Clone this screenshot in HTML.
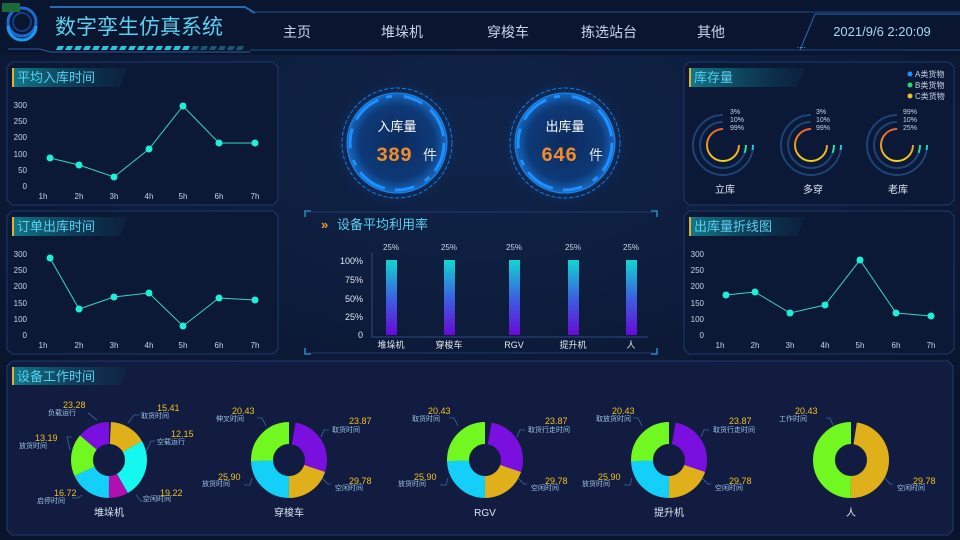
<!DOCTYPE html>
<html><head><meta charset="utf-8"><style>
html,body{margin:0;padding:0;background:#0b1530;}
svg{display:block;font-family:"Liberation Sans","Noto Sans CJK SC",sans-serif;}
</style></head><body>
<svg width="960" height="540" viewBox="0 0 960 540" xmlns="http://www.w3.org/2000/svg">
<defs>
<radialGradient id="bgG" cx="0.5" cy="0.25" r="0.7"><stop offset="0" stop-color="#10244a"/><stop offset="1" stop-color="#0a142c"/></radialGradient>
<linearGradient id="barG" x1="0" y1="0" x2="0" y2="1"><stop offset="0" stop-color="#12d6d0"/><stop offset="0.5" stop-color="#3a62e0"/><stop offset="1" stop-color="#6a08d8"/></linearGradient>
<linearGradient id="titleG" x1="0" y1="0" x2="1" y2="0"><stop offset="0" stop-color="#137a8a"/><stop offset="1" stop-color="#0c3350" stop-opacity="0.3"/></linearGradient>
<linearGradient id="ringG" x1="0" y1="0" x2="0" y2="1"><stop offset="0" stop-color="#e8622a"/><stop offset="1" stop-color="#f2d21c"/></linearGradient>
<radialGradient id="gaugeG" cx="0.5" cy="0.5" r="0.5"><stop offset="0" stop-color="#0c2a5c"/><stop offset="0.75" stop-color="#0e3a78"/><stop offset="1" stop-color="#1668c0"/></radialGradient>
<radialGradient id="glowG" cx="0.5" cy="0.5" r="0.5"><stop offset="0.6" stop-color="#1060c0" stop-opacity="0.35"/><stop offset="1" stop-color="#0b1530" stop-opacity="0"/></radialGradient>
</defs>
<rect width="960" height="540" fill="url(#bgG)"/>
<!-- header -->
<rect x="0" y="0" width="960" height="55" fill="#0a1530"/>
<path d="M250 12 L960 12 M250 50 L960 50" stroke="#1f4a8a" stroke-width="1"/>
<path d="M8 49 L40 49 L50 52 L250 52" stroke="#2a5aa0" fill="none"/>
<path d="M50 7 L245 7 L255 13" stroke="#2a6ab0" fill="none" stroke-width="2"/>
<circle cx="22" cy="22" r="14" fill="none" stroke="#1a6ad0" stroke-width="3"/>
<circle cx="22" cy="22" r="9" fill="none" stroke="#0f3f80" stroke-width="2"/>
<path d="M8 26 A14 14 0 0 0 36 26" stroke="#1a9af0" stroke-width="3" fill="none"/>
<rect x="2" y="3" width="18" height="9" fill="#1a6a3a"/>
<text x="55" y="34" font-size="21" fill="#5ad0f0">数字孪生仿真系统</text>
<g fill="#29c4d8">
<path d="M58 46h6l-2 4h-6z M67 46h6l-2 4h-6z M76 46h6l-2 4h-6z M85 46h6l-2 4h-6z M94 46h6l-2 4h-6z M103 46h6l-2 4h-6z M112 46h6l-2 4h-6z M121 46h6l-2 4h-6z M130 46h6l-2 4h-6z M139 46h6l-2 4h-6z M148 46h6l-2 4h-6z M157 46h6l-2 4h-6z M166 46h6l-2 4h-6z M175 46h6l-2 4h-6z M184 46h6l-2 4h-6z"/>
<path d="M193 46h6l-2 4h-6z M202 46h6l-2 4h-6z M211 46h6l-2 4h-6z M220 46h6l-2 4h-6z M229 46h6l-2 4h-6z M238 46h6l-2 4h-6z" opacity="0.4"/>
</g>
<g font-size="14" fill="#c8d4e8" text-anchor="middle">
<text x="297" y="37">主页</text><text x="402" y="37">堆垛机</text><text x="508" y="37">穿梭车</text><text x="609" y="37">拣选站台</text><text x="711" y="37">其他</text>
</g>
<path d="M800 50 L815 14 L960 14" stroke="#2a6ab0" fill="none"/>
<text x="882" y="36" font-size="13" fill="#a8d8f0" text-anchor="middle">2021/9/6 2:20:09</text>
<text x="797" y="48" font-size="8" fill="#5ad0f0">....</text>

<!-- panels -->
<g fill="#0b1836" stroke="#1d3a6e" stroke-width="1">
<path d="M12 62 H273 L278 67 V200 L273 205 H12 L7 200 V67 Z"/>
<path d="M12 211 H273 L278 216 V349 L273 354 H12 L7 349 V216 Z"/>
<path d="M689 62 H949 L954 67 V200 L949 205 H689 L684 200 V67 Z"/>
<path d="M689 211 H949 L954 216 V349 L949 354 H689 L684 349 V216 Z"/>
<path d="M12 361 H948 L953 366 V530 L948 535 H12 L7 530 V366 Z" fill="#111c40"/>
</g>
<g font-size="13" fill="#5ad0f0">
<path d="M12 68 H128 L120 87 H12Z" fill="url(#titleG)"/><rect x="12" y="68" width="2" height="19" fill="#e0b030"/><text x="17" y="82">平均入库时间</text>
<path d="M12 217 H128 L120 236 H12Z" fill="url(#titleG)"/><rect x="12" y="217" width="2" height="19" fill="#e0b030"/><text x="17" y="231">订单出库时间</text>
<path d="M689 68 H805 L797 87 H689Z" fill="url(#titleG)"/><rect x="689" y="68" width="2" height="19" fill="#e0b030"/><text x="694" y="82">库存量</text>
<path d="M689 217 H805 L797 236 H689Z" fill="url(#titleG)"/><rect x="689" y="217" width="2" height="19" fill="#e0b030"/><text x="694" y="231">出库量折线图</text>
<path d="M12 367 H128 L120 385 H12Z" fill="url(#titleG)"/><rect x="12" y="367" width="2" height="18" fill="#e0b030"/><text x="17" y="381">设备工作时间</text>
</g>

<!-- line chart 1 -->
<g font-size="8" fill="#c8d4e8">
<g text-anchor="end"><text x="27" y="108">300</text><text x="27" y="124">250</text><text x="27" y="140">200</text><text x="27" y="157">100</text><text x="27" y="173">50</text><text x="27" y="189">0</text></g>
<g text-anchor="middle"><text x="43" y="199">1h</text><text x="79" y="199">2h</text><text x="114" y="199">3h</text><text x="149" y="199">4h</text><text x="183" y="199">5h</text><text x="219" y="199">6h</text><text x="255" y="199">7h</text></g>
</g>
<polyline points="50,158 79,165 114,177 149,149 183,106 219,143 255,143" fill="none" stroke="#3ad6c0" stroke-width="1"/>
<g fill="#1ef0d8"><circle cx="50" cy="158" r="3.5"/><circle cx="79" cy="165" r="3.5"/><circle cx="114" cy="177" r="3.5"/><circle cx="149" cy="149" r="3.5"/><circle cx="183" cy="106" r="3.5"/><circle cx="219" cy="143" r="3.5"/><circle cx="255" cy="143" r="3.5"/></g>

<!-- line chart 2 -->
<g font-size="8" fill="#c8d4e8">
<g text-anchor="end"><text x="27" y="257">300</text><text x="27" y="273">250</text><text x="27" y="289">200</text><text x="27" y="306">150</text><text x="27" y="322">100</text><text x="27" y="338">0</text></g>
<g text-anchor="middle"><text x="43" y="348">1h</text><text x="79" y="348">2h</text><text x="114" y="348">3h</text><text x="149" y="348">4h</text><text x="183" y="348">5h</text><text x="219" y="348">6h</text><text x="255" y="348">7h</text></g>
</g>
<polyline points="50,258 79,309 114,297 149,293 183,326 219,298 255,300" fill="none" stroke="#3ad6c0" stroke-width="1"/>
<g fill="#1ef0d8"><circle cx="50" cy="258" r="3.5"/><circle cx="79" cy="309" r="3.5"/><circle cx="114" cy="297" r="3.5"/><circle cx="149" cy="293" r="3.5"/><circle cx="183" cy="326" r="3.5"/><circle cx="219" cy="298" r="3.5"/><circle cx="255" cy="300" r="3.5"/></g>

<!-- line chart 3 -->
<g font-size="8" fill="#c8d4e8">
<g text-anchor="end"><text x="704" y="257">300</text><text x="704" y="273">250</text><text x="704" y="289">200</text><text x="704" y="306">150</text><text x="704" y="322">100</text><text x="704" y="338">0</text></g>
<g text-anchor="middle"><text x="720" y="348">1h</text><text x="755" y="348">2h</text><text x="790" y="348">3h</text><text x="825" y="348">4h</text><text x="860" y="348">5h</text><text x="896" y="348">6h</text><text x="931" y="348">7h</text></g>
</g>
<polyline points="726,295 755,292 790,313 825,305 860,260 896,313 931,316" fill="none" stroke="#3ad6c0" stroke-width="1"/>
<g fill="#1ef0d8"><circle cx="726" cy="295" r="3.5"/><circle cx="755" cy="292" r="3.5"/><circle cx="790" cy="313" r="3.5"/><circle cx="825" cy="305" r="3.5"/><circle cx="860" cy="260" r="3.5"/><circle cx="896" cy="313" r="3.5"/><circle cx="931" cy="316" r="3.5"/></g>

<!-- gauges -->
<g>
<circle cx="397" cy="143" r="70" fill="url(#glowG)"/>
<circle cx="397" cy="143" r="55" fill="none" stroke="#1a7ad8" stroke-width="1" stroke-dasharray="4 2"/>
<circle cx="397" cy="143" r="50" fill="url(#gaugeG)" stroke="#1a8af0" stroke-width="1"/>
<circle cx="397" cy="143" r="47" fill="none" stroke="#1e90ff" stroke-width="3" stroke-dasharray="30 8 6 12 20 10"/>
<text x="397" y="131" font-size="13" fill="#ffffff" text-anchor="middle">入库量</text>
<text x="376" y="161" font-size="20" fill="#f08a2a" font-family="Liberation Mono,monospace" font-weight="bold">389</text>
<text x="423" y="160" font-size="14" fill="#e0e8f0">件</text>
<circle cx="565" cy="143" r="70" fill="url(#glowG)"/>
<circle cx="565" cy="143" r="55" fill="none" stroke="#1a7ad8" stroke-width="1" stroke-dasharray="4 2"/>
<circle cx="565" cy="143" r="50" fill="url(#gaugeG)" stroke="#1a8af0" stroke-width="1"/>
<circle cx="565" cy="143" r="47" fill="none" stroke="#1e90ff" stroke-width="3" stroke-dasharray="30 8 6 12 20 10"/>
<text x="565" y="131" font-size="13" fill="#ffffff" text-anchor="middle">出库量</text>
<text x="541" y="161" font-size="20" fill="#f08a2a" font-family="Liberation Mono,monospace" font-weight="bold">646</text>
<text x="589" y="160" font-size="14" fill="#e0e8f0">件</text>
</g>

<!-- bar panel -->
<g stroke="#2a8ac0" fill="none" stroke-width="1.5">
<path d="M305 217V211h6 M651 211h6v6 M305 348v6h6 M651 354h6v-6"/>
</g>
<path d="M306 212 H656 M306 353 H656" stroke="#1d3a6e"/>
<text x="321" y="229" font-size="13" fill="#f0a030" font-weight="bold">»</text>
<text x="337" y="229" font-size="13" fill="#5ad0f0">设备平均利用率</text>
<path d="M372 253 V337 H648" stroke="#2a4a80" fill="none"/>
<g font-size="9" fill="#dde6f2" text-anchor="end"><text x="363" y="264">100%</text><text x="363" y="283">75%</text><text x="363" y="302">50%</text><text x="363" y="320">25%</text><text x="363" y="338">0</text></g>
<g fill="url(#barG)"><rect x="386" y="260" width="11" height="75"/><rect x="444" y="260" width="11" height="75"/><rect x="509" y="260" width="11" height="75"/><rect x="568" y="260" width="11" height="75"/><rect x="626" y="260" width="11" height="75"/></g>
<g font-size="8" fill="#c8d4e8" text-anchor="middle"><text x="391" y="250">25%</text><text x="449" y="250">25%</text><text x="514" y="250">25%</text><text x="573" y="250">25%</text><text x="631" y="250">25%</text></g>
<g font-size="9" fill="#e0e8f0" text-anchor="middle"><text x="391" y="348">堆垛机</text><text x="449" y="348">穿梭车</text><text x="514" y="348">RGV</text><text x="573" y="348">提升机</text><text x="631" y="348">人</text></g>

<!-- storage rings -->
<g font-size="8" fill="#c8d4e8">
<circle cx="910" cy="74" r="2.5" fill="#1e90ff"/><text x="915" y="77">A类货物</text>
<circle cx="910" cy="85" r="2.5" fill="#20e060"/><text x="915" y="88">B类货物</text>
<circle cx="910" cy="96" r="2.5" fill="#f0c020"/><text x="915" y="99">C类货物</text>
</g>
<g fill="none">
<g transform="translate(723,145)">
<circle r="30" stroke="#1c4478" stroke-width="2" stroke-dasharray="141 47"/><path d="M30 0 A30 30 0 0 1 29.6 4.9" stroke="#20c8d8" stroke-width="2"/>
<circle r="23" stroke="#1c4478" stroke-width="2" stroke-dasharray="108 37"/><path d="M23 0 A23 23 0 0 1 21.6 7.9" stroke="#20e0a0" stroke-width="2"/>
<circle r="16" stroke="url(#ringG)" stroke-width="2" stroke-dasharray="75.4 25.1"/>
</g>
<g transform="translate(811,145)">
<circle r="30" stroke="#1c4478" stroke-width="2" stroke-dasharray="141 47"/><path d="M30 0 A30 30 0 0 1 29.6 4.9" stroke="#20c8d8" stroke-width="2"/>
<circle r="23" stroke="#1c4478" stroke-width="2" stroke-dasharray="108 37"/><path d="M23 0 A23 23 0 0 1 21.6 7.9" stroke="#20e0a0" stroke-width="2"/>
<circle r="16" stroke="url(#ringG)" stroke-width="2" stroke-dasharray="75.4 25.1"/>
</g>
<g transform="translate(897,145)">
<circle r="30" stroke="#1c4478" stroke-width="2" stroke-dasharray="141 47"/><path d="M30 0 A30 30 0 0 1 29.6 4.9" stroke="#20c8d8" stroke-width="2"/>
<circle r="23" stroke="#1c4478" stroke-width="2" stroke-dasharray="108 37"/><path d="M23 0 A23 23 0 0 1 21.6 7.9" stroke="#20e0a0" stroke-width="2"/>
<circle r="16" stroke="url(#ringG)" stroke-width="2" stroke-dasharray="75.4 25.1"/>
</g>
</g>
<g font-size="7" fill="#c8d4e8">
<text x="730" y="114">3%</text><text x="730" y="122">10%</text><text x="730" y="130">99%</text>
<text x="816" y="114">3%</text><text x="816" y="122">10%</text><text x="816" y="130">99%</text>
<text x="903" y="114">99%</text><text x="903" y="122">10%</text><text x="903" y="130">25%</text>
</g>
<g font-size="10" fill="#dde6f2" text-anchor="middle"><text x="725" y="193">立库</text><text x="813" y="193">多穿</text><text x="898" y="193">老库</text></g>

<!-- donuts -->
<g fill="none" stroke-width="22">
<g transform="translate(109,460) rotate(-90)">
<circle r="27" stroke="#e0b01a" stroke-dasharray="27 200" stroke-dashoffset="-1.4"/>
<circle r="27" stroke="#14f8f0" stroke-dasharray="42.4 200" stroke-dashoffset="-28.3"/>
<circle r="27" stroke="#b010b0" stroke-dasharray="14.2 200" stroke-dashoffset="-70.7"/>
<circle r="27" stroke="#14d0f8" stroke-dasharray="30.6 200" stroke-dashoffset="-84.8"/>
<circle r="27" stroke="#70f820" stroke-dasharray="30.6 200" stroke-dashoffset="-115.4"/>
<circle r="27" stroke="#7a10e0" stroke-dasharray="25 200" stroke-dashoffset="-146"/>
</g>
<g transform="translate(289,460) rotate(-90)">
<circle r="27" stroke="#7a10e0" stroke-dasharray="47 200" stroke-dashoffset="-4.7"/>
<circle r="27" stroke="#e0b01a" stroke-dasharray="33.9 200" stroke-dashoffset="-51"/>
<circle r="27" stroke="#14d0f8" stroke-dasharray="41.5 200" stroke-dashoffset="-84.8"/>
<circle r="27" stroke="#70f820" stroke-dasharray="48 200" stroke-dashoffset="-126.2"/>
</g>
<g transform="translate(485,460) rotate(-90)">
<circle r="27" stroke="#7a10e0" stroke-dasharray="47 200" stroke-dashoffset="-4.7"/>
<circle r="27" stroke="#e0b01a" stroke-dasharray="33.9 200" stroke-dashoffset="-51"/>
<circle r="27" stroke="#14d0f8" stroke-dasharray="41.5 200" stroke-dashoffset="-84.8"/>
<circle r="27" stroke="#70f820" stroke-dasharray="48 200" stroke-dashoffset="-126.2"/>
</g>
<g transform="translate(669,460) rotate(-90)">
<circle r="27" stroke="#7a10e0" stroke-dasharray="47 200" stroke-dashoffset="-4.7"/>
<circle r="27" stroke="#e0b01a" stroke-dasharray="33.9 200" stroke-dashoffset="-51"/>
<circle r="27" stroke="#14d0f8" stroke-dasharray="41.5 200" stroke-dashoffset="-84.8"/>
<circle r="27" stroke="#70f820" stroke-dasharray="48 200" stroke-dashoffset="-126.2"/>
</g>
<g transform="translate(851,460) rotate(-90)">
<circle r="27" stroke="#e0b01a" stroke-dasharray="80.6 200" stroke-dashoffset="-4.2"/>
<circle r="27" stroke="#70f820" stroke-dasharray="89 200" stroke-dashoffset="-84.8"/>
</g>
</g>
<g font-size="7" fill="#9cc0e8">
<g stroke="#3a6aa0" fill="none" stroke-width="0.8">
<path d="M88 413 L97 420 M140 415 L134 415 L128 423 M155 441 L151 441 L146 452 M136 495 L141 501 L147 501 M72 437 L67 437 L70 450 M82 495 L78 498 L72 498"/>
<path d="M257 418 L262 418 L266 426 M329 430 L324 430 L321 437 M331 484 L328 484 L322 478 M244 485 L250 485 L252 478"/>
<path d="M449 418 L454 418 L458 426 M525 430 L520 430 L517 437 M527 484 L524 484 L518 478 M440 485 L446 485 L448 478"/>
<path d="M633 418 L638 418 L642 426 M709 430 L704 430 L701 437 M711 484 L708 484 L702 478 M624 485 L630 485 L632 478"/>
<path d="M826 418 L830 418 L833 425 M893 484 L890 484 L885 478"/>
</g>
<text x="48" y="415">负载运行</text><text x="141" y="418">取货时间</text><text x="157" y="444">空载运行</text><text x="143" y="501">空闲时间</text><text x="19" y="448">放货时间</text><text x="37" y="503">启停时间</text>
<text x="216" y="421">伸叉时间</text><text x="332" y="432">取货时间</text><text x="335" y="490">空闲时间</text><text x="202" y="486">放货时间</text>
<text x="412" y="421">取货时间</text><text x="528" y="432">取货行走时间</text><text x="531" y="490">空闲时间</text><text x="398" y="486">放货时间</text>
<text x="596" y="421">取放货时间</text><text x="713" y="432">取货行走时间</text><text x="715" y="490">空闲时间</text><text x="582" y="486">放货时间</text>
<text x="779" y="421">工作时间</text><text x="897" y="490">空闲时间</text>
</g>
<g font-size="9" fill="#f0c020">
<text x="63" y="408">23.28</text><text x="157" y="411">15.41</text><text x="171" y="437">12.15</text><text x="160" y="496">19.22</text><text x="35" y="441">13.19</text><text x="54" y="496">16.72</text>
<text x="232" y="414">20.43</text><text x="349" y="424">23.87</text><text x="349" y="484">29.78</text><text x="218" y="480">25.90</text>
<text x="428" y="414">20.43</text><text x="545" y="424">23.87</text><text x="545" y="484">29.78</text><text x="414" y="480">25.90</text>
<text x="612" y="414">20.43</text><text x="729" y="424">23.87</text><text x="729" y="484">29.78</text><text x="598" y="480">25.90</text>
<text x="795" y="414">20.43</text><text x="913" y="484">29.78</text>
</g>
<g font-size="10" fill="#dde6f2" text-anchor="middle"><text x="109" y="516">堆垛机</text><text x="289" y="516">穿梭车</text><text x="485" y="516">RGV</text><text x="669" y="516">提升机</text><text x="851" y="516">人</text></g>
</svg>
</body></html>
